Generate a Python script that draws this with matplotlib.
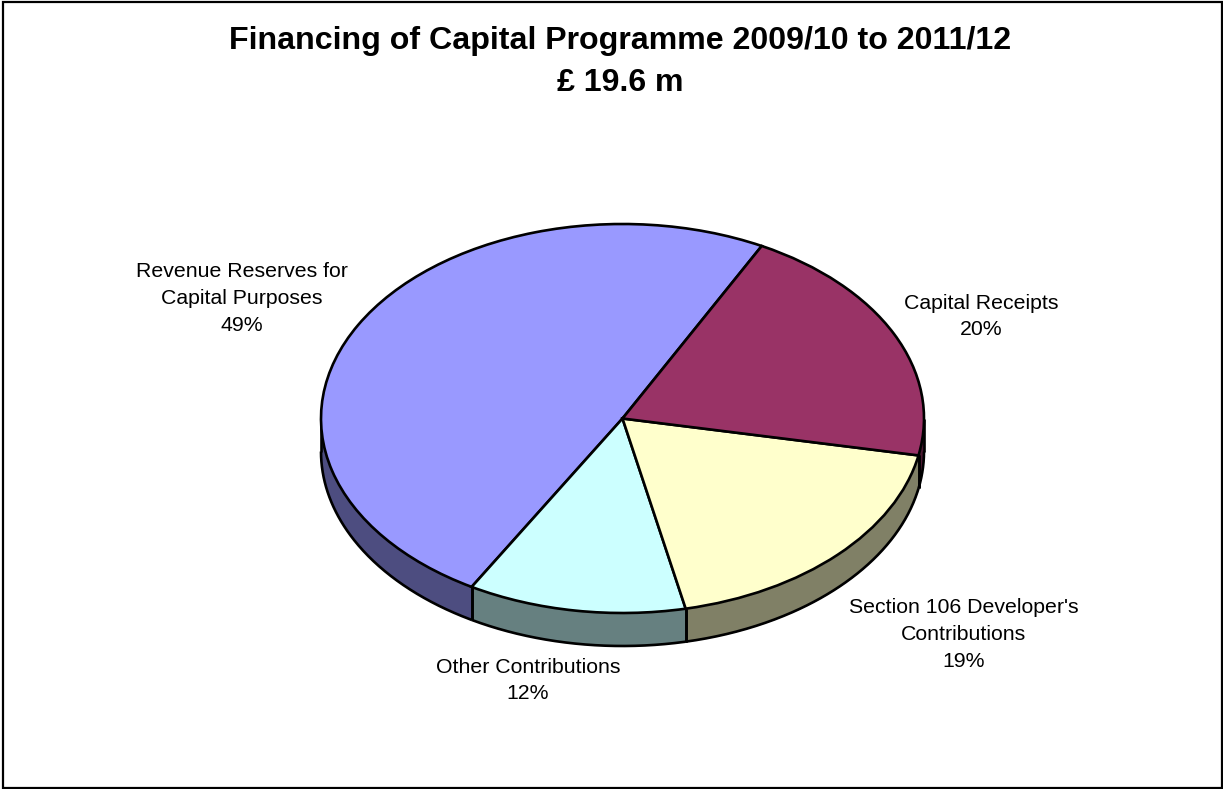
"""Financing of Capital Programme - pie with a drawn rim, Excel style."""

import numpy as np
import matplotlib
matplotlib.use("Agg")
import matplotlib.pyplot as plt

# data, in drawing order (counter clockwise from the start angle)
labels = ["Revenue Reserves for\nCapital Purposes\n49%", "Other Contributions\n12%",
          "Section 106 Developer's\nContributions\n19%", "Capital Receipts\n20%"]
values = [49.3, 11.7, 18.6, 20.4]
top_colors = ["#9999FF", "#CCFFFF", "#FFFFCC", "#993366"]
side_colors = ["#4D4D80", "#668080", "#808066", "#4D1A33"]
label_px = [(241.5, 298.5), (528, 680.5), (964, 634.5), (981.5, 316.5)]

W, H = 1223, 789
CX, CY = 622.5, 418.5
RX, RY = 301.5, 194.5
DEPTH = 33 / RY
START = 62.5
LW = 1.9


def main():
    plt.rcParams["font.family"] = ["Liberation Sans", "DejaVu Sans"]
    fig = plt.figure(figsize=(W / 100, H / 100), dpi=100, facecolor="white")
    ax = fig.add_axes([0, 0, 1, 1])

    ax.pie(values, colors=top_colors, startangle=START, counterclock=True,
           wedgeprops={"edgecolor": "black", "linewidth": LW, "zorder": 3})
    ax.set_aspect("auto")
    ax.set_xlim(-CX / RX, (W - CX) / RX)
    ax.set_ylim(-(H - CY) / RY, CY / RY)
    ax.axis("off")

    # rim: only the front half of the ellipse is visible
    edges = START + 360 * np.cumsum([0] + values) / sum(values)
    for a0, a1, col in zip(edges[:-1], edges[1:], side_colors):
        for lo, hi in [(a0, a1), (a0 - 360, a1 - 360)]:
            lo, hi = max(lo, -180), min(hi, 0)
            if lo >= hi:
                continue
            t = np.radians(np.linspace(lo, hi, 200))
            x, y = np.cos(t), np.sin(t)
            ax.fill_between(x, y, y - DEPTH, color=col, lw=0, zorder=1)
            ax.plot(x, y - DEPTH, color="black", lw=LW, zorder=2, solid_capstyle="butt")
            for tt in (t[0], t[-1]):
                ax.plot([np.cos(tt)] * 2, [np.sin(tt), np.sin(tt) - DEPTH],
                        color="black", lw=LW, zorder=2, solid_capstyle="butt")

    for text, (px, py) in zip(labels, label_px):
        fig.text(px / W, 1 - py / H, text, ha="center", va="center",
                 fontsize=15.3, linespacing=1.52, color="black")

    fig.text(620 / W, 1 - 62 / H, "Financing of Capital Programme 2009/10 to 2011/12\n£ 19.6 m",
             ha="center", va="center", fontsize=23.1, fontweight="bold", linespacing=1.55)

    # chart area border
    fig.add_artist(plt.Rectangle((3 / W, 1 / H), (W - 4) / W, (H - 3) / H, fill=False,
                                 edgecolor="black", linewidth=1.6,
                                 transform=fig.transFigure))

    fig.savefig("out.png", dpi=100)


if __name__ == "__main__":
    main()
